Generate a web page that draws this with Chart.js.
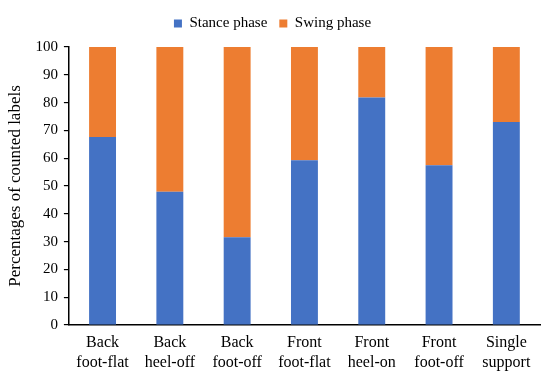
<!DOCTYPE html>
<html>
<head>
<meta charset="utf-8">
<script src="https://cdn.jsdelivr.net/npm/chart.js@4/dist/chart.umd.min.js"></script>
<style>
  html, body { margin: 0; padding: 0; background: #fff; }
  #wrap { width: 550px; height: 381px; }
</style>
</head>
<body>
<div id="wrap"><canvas id="myChart"></canvas></div>
<script>
// values
var categories = [
  ['Back', 'foot-flat'],
  ['Back', 'heel-off'],
  ['Back', 'foot-off'],
  ['Front', 'foot-flat'],
  ['Front', 'heel-on'],
  ['Front', 'foot-off'],
  ['Single', 'support']
];
var stance = [67.6, 47.9, 31.6, 59.3, 81.8, 57.5, 73.0];
var swing = stance.map(function (v) { return +(100 - v).toFixed(1); });
var yTicks = [0, 10, 20, 30, 40, 50, 60, 70, 80, 90, 100];

var serif = "'Liberation Serif', 'Times New Roman', serif";
Chart.defaults.font.family = serif;
Chart.defaults.color = '#000';

// a bit more room under the legend
var legendGap = {
  id: 'legendGap',
  beforeInit: function (chart) {
    var fit = chart.legend.fit;
    chart.legend.fit = function () {
      fit.bind(chart.legend)();
      this.height += 6;
    };
  }
};

var ctx = document.getElementById('myChart').getContext('2d');
var myChart = new Chart(ctx, {
  type: 'bar',
  data: {
    labels: categories,
    datasets: [{
      label: 'Stance phase',
      data: stance,
      backgroundColor: '#4472C4'
    }, {
      label: 'Swing phase',
      data: swing,
      backgroundColor: '#ED7D31'
    }]
  },
  options: {
    responsive: true,
    maintainAspectRatio: false,
    animation: false,
    layout: { padding: { left: 5, right: 10, top: 4, bottom: 0 } },
    datasets: {
      bar: { categoryPercentage: 1, barPercentage: 0.4 }
    },
    plugins: {
      tooltip: { enabled: false },
      legend: {
        position: 'top',
        labels: {
          boxWidth: 8,
          boxHeight: 8,
          padding: 12,
          font: { size: 15 }
        }
      }
    },
    scales: {
      x: {
        stacked: true,
        grid: { display: false, drawTicks: false },
        border: { display: true, color: '#000', width: 1.5 },
        ticks: { font: { size: 16, lineHeight: 1.25 }, padding: 8, maxRotation: 0 }
      },
      y: {
        stacked: true,
        min: 0,
        max: 100,
        afterBuildTicks: function (axis) {
          axis.ticks = yTicks.map(function (v) { return { value: v }; });
        },
        grid: { drawOnChartArea: false, drawTicks: true, tickLength: 5, color: '#000', lineWidth: 1.2 },
        border: { display: true, color: '#000', width: 1.5 },
        ticks: { font: { size: 15 }, padding: 6 },
        title: {
          display: true,
          text: 'Percentages of counted labels',
          font: { size: 17 },
          padding: { top: 0, bottom: 4 }
        }
      }
    }
  },
  plugins: [legendGap]
});
</script>
</body>
</html>
